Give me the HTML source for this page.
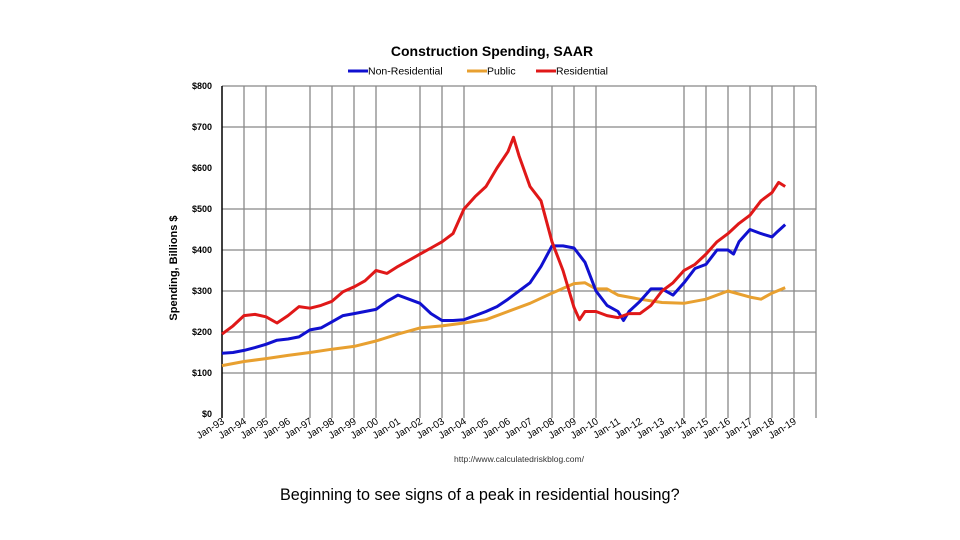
<!DOCTYPE html>
<html><head><meta charset="utf-8"><style>
body{margin:0;background:#fff;width:960px;height:540px;overflow:hidden;font-family:"Liberation Sans",sans-serif}
svg{position:absolute;left:0;top:0}
.cap{position:absolute;left:280px;top:486px;font-size:16.2px;color:#000}
</style></head><body>
<svg id="chart" width="960" height="540"></svg>
<div class="cap">Beginning to see signs of a peak in residential housing?</div>
<script>
const resX=[1993,1993.5,1994,1994.5,1995,1995.5,1996,1996.5,1997,1997.5,1998,1998.5,1999,1999.5,2000,2000.5,2001,2001.5,2002,2002.5,2003,2003.5,2004,2004.5,2005,2005.5,2006,2006.25,2006.5,2007,2007.5,2008,2008.5,2009,2009.25,2009.5,2010,2010.5,2011,2011.5,2012,2012.5,2013,2013.5,2014,2014.5,2015,2015.5,2016,2016.5,2017,2017.5,2018,2018.3,2018.6];
const resY=[195,215,240,243,237,222,240,262,258,265,275,298,310,325,350,343,360,375,390,405,420,440,500,530,555,600,640,675,630,555,520,420,350,260,230,250,250,240,235,245,245,265,300,320,350,365,390,420,440,465,485,520,540,565,555];
const nonX=[1993,1993.5,1994,1994.5,1995,1995.5,1996,1996.5,1997,1997.5,1998,1998.5,1999,1999.5,2000,2000.5,2001,2001.5,2002,2002.5,2003,2003.5,2004,2004.5,2005,2005.5,2006,2006.5,2007,2007.5,2008,2008.5,2009,2009.5,2010,2010.5,2011,2011.25,2011.5,2012,2012.5,2013,2013.5,2014,2014.5,2015,2015.5,2016,2016.25,2016.5,2017,2017.5,2018,2018.25,2018.6];
const nonY=[148,150,155,162,170,180,183,188,205,210,225,240,245,250,255,275,290,280,270,245,228,228,230,240,250,262,280,300,320,360,410,410,405,370,300,265,250,228,250,275,305,305,290,320,355,365,400,400,390,420,450,440,432,445,462];
const pubX=[1993,1994,1995,1996,1997,1998,1999,2000,2001,2002,2003,2004,2005,2006,2007,2008,2009,2009.5,2010,2010.5,2011,2012,2013,2014,2015,2016,2017,2017.5,2018,2018.6];
const pubY=[118,128,135,143,150,158,165,178,195,210,215,222,230,250,270,295,318,320,305,305,290,280,272,270,280,300,285,280,295,308];
const yTicks=[0,100,200,300,400,500,600,700,800];
const yGrid=[100,200,300,400,500,700,800];
const xLabels=["Jan-93","Jan-94","Jan-95","Jan-96","Jan-97","Jan-98","Jan-99","Jan-00","Jan-01","Jan-02","Jan-03","Jan-04","Jan-05","Jan-06","Jan-07","Jan-08","Jan-09","Jan-10","Jan-11","Jan-12","Jan-13","Jan-14","Jan-15","Jan-16","Jan-17","Jan-18","Jan-19"];
const gridYears=[1994,1995,1997,1998,1999,2000,2002,2003,2004,2008,2009,2010,2014,2015,2016,2017,2018,2019,2020];
const svg=document.getElementById('chart');const NS="http://www.w3.org/2000/svg";
const X0=222,PX=22,Y0=414,PY=0.41;
const xs=y=>X0+(y-1993)*PX, ys=v=>Y0-v*PY;
function mk(t,a,p){const e=document.createElementNS(NS,t);for(const k in a)e.setAttribute(k,a[k]);(p||svg).appendChild(e);return e;}
yGrid.forEach(v=>{const l=mk('line',{x1:X0,x2:xs(2020),y1:ys(v),y2:ys(v),stroke:'#888','stroke-width':1.3});

});
gridYears.forEach(y=>{const l=mk('line',{x1:xs(y),x2:xs(y),y1:ys(800),y2:ys(0)+4,stroke:'#888','stroke-width':1.3});

});
const ax=mk('line',{x1:X0,x2:X0,y1:ys(800),y2:ys(0)+4,stroke:'#000','stroke-width':1.5});


yTicks.forEach(v=>{const t=mk('text',{x:212,y:ys(v)+3,'text-anchor':'end','font-size':9,'font-weight':'bold'});t.textContent='$'+v;

});
xLabels.forEach((s,i)=>{const x=xs(1993+i);const t=mk('text',{x:x+3,y:423,'text-anchor':'end','font-size':10,transform:`rotate(-32 ${x+3} 423)`});t.textContent=s;

});
function series(xa,ya,col,name){const d=xa.map((x,i)=>(i?'L':'M')+xs(x).toFixed(1)+','+ys(ya[i]).toFixed(1)).join('');
const p=mk('path',{d,fill:'none',stroke:col,'stroke-width':3,'stroke-linejoin':'round'});

}
series(pubX,pubY,'#e8a030','public-line');
series(nonX,nonY,'#1010d0','non-residential-line');
series(resX,resY,'#e01818','residential-line');
const ti=mk('text',{x:492,y:56,'text-anchor':'middle','font-size':14,'font-weight':'bold'});ti.textContent='Construction Spending, SAAR';


[[348,'#1010d0','Non-Residential','legend-non-residential'],[467,'#e8a030','Public','legend-public'],[536,'#e01818','Residential','legend-residential']].forEach(([x,c,s,n])=>{
const g=mk('g',{});


mk('line',{x1:x,x2:x+20,y1:71,y2:71,stroke:c,'stroke-width':3},g);
const t=mk('text',{x:x+20,y:74.5,'font-size':10.5},g);t.textContent=s;});
const yt=mk('text',{x:177,y:268,'text-anchor':'middle','font-size':11,'font-weight':'bold',transform:'rotate(-90 177 268)'});yt.textContent='Spending, Billions $';


const u=mk('text',{x:519,y:462,'text-anchor':'middle','font-size':8.5,fill:'#333'});u.textContent='http://www.calculatedriskblog.com/';


</script>
</body></html>
